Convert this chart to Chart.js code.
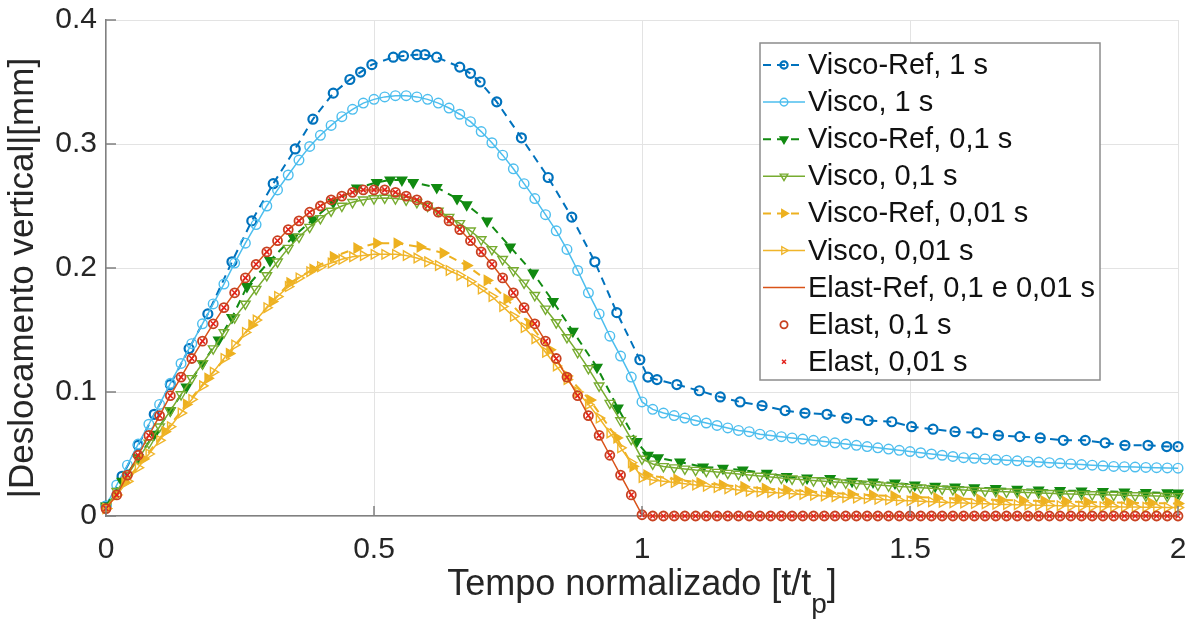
<!DOCTYPE html>
<html lang="pt">
<head>
<meta charset="UTF-8">
<title>Deslocamento vertical</title>
<script src="https://cdn.jsdelivr.net/npm/chart.js"></script>
<style>
  body { margin: 0; background: #fff; }
  #wrap { width: 1190px; height: 626px; }
</style>
</head>
<body>
<div id="wrap"><canvas id="chart" width="1190" height="626"></canvas></div>
<script>
// eixos
const xTicks = [0, 0.5, 1, 1.5, 2];
const xTickLabels = ['0', '0.5', '1', '1.5', '2'];
const yTicks = [0, 0.1, 0.2, 0.3, 0.4];
const yTickLabels = ['0', '0.1', '0.2', '0.3', '0.4'];

// tempo normalizado das curvas densas
const xDense = [0, 0.02, 0.04, 0.06, 0.08, 0.1, 0.12, 0.14, 0.16, 0.18,
  0.2, 0.22, 0.24, 0.26, 0.28, 0.3, 0.32, 0.34, 0.36, 0.38,
  0.4, 0.42, 0.44, 0.46, 0.48, 0.5, 0.52, 0.54, 0.56, 0.58,
  0.6, 0.62, 0.64, 0.66, 0.68, 0.7, 0.72, 0.74, 0.76, 0.78,
  0.8, 0.82, 0.84, 0.86, 0.88, 0.9, 0.92, 0.94, 0.96, 0.98,
  1, 1.02, 1.04, 1.06, 1.08, 1.1, 1.12, 1.14, 1.16, 1.18,
  1.2, 1.22, 1.24, 1.26, 1.28, 1.3, 1.32, 1.34, 1.36, 1.38,
  1.4, 1.42, 1.44, 1.46, 1.48, 1.5, 1.52, 1.54, 1.56, 1.58,
  1.6, 1.62, 1.64, 1.66, 1.68, 1.7, 1.72, 1.74, 1.76, 1.78,
  1.8, 1.82, 1.84, 1.86, 1.88, 1.9, 1.92, 1.94, 1.96, 1.98,
  2];

// Visco, 1 s
const visco1 = [0.008, 0.025, 0.041, 0.058, 0.074, 0.090, 0.107, 0.123, 0.139, 0.155,
  0.171, 0.187, 0.204, 0.220, 0.235, 0.250, 0.263, 0.275, 0.287, 0.298,
  0.307, 0.315, 0.322, 0.328, 0.333, 0.336, 0.338, 0.339, 0.339, 0.338,
  0.336, 0.333, 0.329, 0.324, 0.318, 0.310, 0.301, 0.291, 0.280, 0.268,
  0.256, 0.243, 0.230, 0.215, 0.198, 0.180, 0.163, 0.145, 0.129, 0.112,
  0.092, 0.086, 0.083, 0.081, 0.079, 0.077, 0.075, 0.073, 0.071, 0.069,
  0.068, 0.066, 0.065, 0.064, 0.063, 0.062, 0.061, 0.060, 0.059, 0.058,
  0.057, 0.056, 0.055, 0.054, 0.053, 0.052, 0.051, 0.050, 0.049, 0.048,
  0.0470, 0.0465, 0.0460, 0.0455, 0.0450, 0.0445, 0.0440, 0.0435, 0.0430, 0.0425,
  0.0420, 0.0415, 0.0410, 0.0405, 0.0400, 0.0398, 0.0395, 0.0392, 0.0390, 0.0388,
  0.0386];

// Visco, 0,1 s
const visco01 = [0.007, 0.020, 0.033, 0.046, 0.059, 0.072, 0.085, 0.098, 0.111, 0.123,
  0.135, 0.148, 0.160, 0.171, 0.183, 0.194, 0.205, 0.216, 0.225, 0.233,
  0.240, 0.246, 0.250, 0.253, 0.255, 0.256, 0.2565, 0.256, 0.255, 0.253,
  0.250, 0.246, 0.241, 0.236, 0.230, 0.223, 0.215, 0.207, 0.198, 0.188,
  0.178, 0.167, 0.156, 0.144, 0.132, 0.119, 0.105, 0.091, 0.077, 0.062,
  0.046, 0.042, 0.040, 0.039, 0.038, 0.037, 0.0362, 0.0354, 0.0346, 0.0338,
  0.0330, 0.0322, 0.0314, 0.0306, 0.0300, 0.0293, 0.0286, 0.0280, 0.0274, 0.0268,
  0.0262, 0.0256, 0.0250, 0.0244, 0.0238, 0.0233, 0.0228, 0.0223, 0.0218, 0.0214,
  0.0210, 0.0206, 0.0202, 0.0198, 0.0195, 0.0192, 0.0189, 0.0186, 0.0183, 0.0180,
  0.0177, 0.0175, 0.0173, 0.0171, 0.0169, 0.0167, 0.0165, 0.0163, 0.0161, 0.0159,
  0.0157];

// Visco, 0,01 s
const visco001 = [0.006, 0.017, 0.028, 0.039, 0.050, 0.061, 0.072, 0.083, 0.094, 0.105,
  0.116, 0.127, 0.138, 0.148, 0.158, 0.168, 0.177, 0.185, 0.192, 0.197,
  0.201, 0.204, 0.207, 0.209, 0.210, 0.211, 0.211, 0.211, 0.210, 0.208,
  0.205, 0.202, 0.198, 0.194, 0.189, 0.183, 0.177, 0.169, 0.161, 0.152,
  0.143, 0.132, 0.121, 0.110, 0.100, 0.090, 0.079, 0.067, 0.055, 0.043,
  0.031, 0.029, 0.028, 0.027, 0.026, 0.025, 0.024, 0.023, 0.022, 0.021,
  0.0200, 0.0195, 0.0190, 0.0185, 0.0180, 0.0174, 0.0168, 0.0162, 0.0156, 0.0150,
  0.0145, 0.0140, 0.0135, 0.0130, 0.0126, 0.0122, 0.0118, 0.0114, 0.0110, 0.0107,
  0.0104, 0.0101, 0.0098, 0.0095, 0.0093, 0.0091, 0.0089, 0.0087, 0.0085, 0.0083,
  0.0081, 0.0079, 0.0077, 0.0075, 0.0074, 0.0073, 0.0072, 0.0071, 0.0070, 0.0069,
  0.0068];

// Elast (ref, 0,1 s e 0,01 s coincidem)
const elast = [0.006, 0.017, 0.033, 0.049, 0.065, 0.081, 0.097, 0.112, 0.127, 0.141,
  0.155, 0.168, 0.180, 0.192, 0.203, 0.213, 0.222, 0.231, 0.238, 0.245,
  0.250, 0.255, 0.258, 0.261, 0.263, 0.263, 0.263, 0.261, 0.258, 0.255,
  0.250, 0.245, 0.238, 0.231, 0.222, 0.213, 0.203, 0.192, 0.180, 0.168,
  0.155, 0.141, 0.127, 0.112, 0.097, 0.081, 0.065, 0.049, 0.033, 0.017,
  0.001, 0, 0, 0, 0, 0, 0, 0, 0, 0,
  0, 0, 0, 0, 0, 0, 0, 0, 0, 0,
  0, 0, 0, 0, 0, 0, 0, 0, 0, 0,
  0, 0, 0, 0, 0, 0, 0, 0, 0, 0,
  0, 0, 0, 0, 0, 0, 0, 0, 0, 0,
  0];

// Visco-Ref, 1 s
const ref1X = [0, 0.03, 0.06, 0.09, 0.12, 0.155, 0.19, 0.235, 0.272, 0.312,
  0.353, 0.386, 0.424, 0.455, 0.475, 0.496, 0.536, 0.555, 0.58, 0.595,
  0.617, 0.66, 0.68, 0.698, 0.729, 0.775, 0.825, 0.869, 0.912, 0.953,
  0.996, 1.011, 1.028, 1.065, 1.107, 1.146, 1.183, 1.224, 1.267, 1.304,
  1.345, 1.382, 1.422, 1.466, 1.503, 1.543, 1.584, 1.625, 1.665, 1.705,
  1.743, 1.786, 1.827, 1.864, 1.901, 1.944, 1.979, 2];
const ref1 = [0.008, 0.032, 0.057, 0.082, 0.106, 0.135, 0.163, 0.205, 0.238, 0.268,
  0.296, 0.320, 0.341, 0.352, 0.358, 0.364, 0.370, 0.371, 0.372, 0.372,
  0.370, 0.362, 0.357, 0.350, 0.334, 0.305, 0.273, 0.241, 0.205, 0.164,
  0.126, 0.112, 0.110, 0.106, 0.101, 0.096, 0.092, 0.089, 0.085, 0.083,
  0.082, 0.079, 0.077, 0.076, 0.072, 0.070, 0.068, 0.067, 0.065, 0.064,
  0.063, 0.061, 0.061, 0.059, 0.057, 0.057, 0.056, 0.056];

// Visco-Ref, 0,1 s
const ref01X = [0, 0.03, 0.06, 0.09, 0.12, 0.15, 0.18, 0.21, 0.235, 0.263,
  0.306, 0.349, 0.386, 0.424, 0.468, 0.505, 0.53, 0.552, 0.573, 0.617,
  0.655, 0.673, 0.711, 0.754, 0.797, 0.834, 0.871, 0.916, 0.955, 0.99,
  1.011, 1.03, 1.071, 1.114, 1.151, 1.188, 1.233, 1.27, 1.308, 1.351,
  1.392, 1.431, 1.472, 1.509, 1.547, 1.584, 1.62, 1.66, 1.7, 1.74,
  1.78, 1.82, 1.86, 1.9, 1.94, 1.98, 2];
const ref01 = [0.008, 0.028, 0.047, 0.066, 0.085, 0.104, 0.123, 0.142, 0.160, 0.185,
  0.206, 0.225, 0.239, 0.253, 0.2645, 0.269, 0.271, 0.271, 0.269, 0.265,
  0.256, 0.251, 0.238, 0.217, 0.196, 0.173, 0.149, 0.120, 0.087, 0.060,
  0.049, 0.047, 0.0436, 0.0395, 0.0386, 0.0370, 0.0345, 0.0318, 0.0306, 0.0303,
  0.0280, 0.0275, 0.0266, 0.0250, 0.0240, 0.0234, 0.0228, 0.0222, 0.0216, 0.0210,
  0.0206, 0.0202, 0.0198, 0.0194, 0.0190, 0.0187, 0.0185];

// Visco-Ref, 0,01 s
const ref001X = [0, 0.035, 0.07, 0.11, 0.15, 0.19, 0.23, 0.272, 0.31, 0.343,
  0.386, 0.424, 0.468, 0.505, 0.543, 0.586, 0.629, 0.673, 0.711, 0.748,
  0.79, 0.828, 0.86, 0.903, 0.953, 0.983, 1.009, 1.065, 1.108, 1.15,
  1.19, 1.23, 1.27, 1.31, 1.35, 1.39, 1.43, 1.47, 1.51, 1.55,
  1.59, 1.63, 1.67, 1.71, 1.75, 1.79, 1.83, 1.87, 1.91, 1.95,
  2];
const ref001 = [0.006, 0.027, 0.046, 0.068, 0.090, 0.111, 0.131, 0.154, 0.173, 0.188,
  0.199, 0.209, 0.216, 0.220, 0.220, 0.217, 0.212, 0.202, 0.190, 0.175,
  0.155, 0.134, 0.113, 0.0935, 0.063, 0.040, 0.033, 0.0295, 0.0268, 0.0250,
  0.0235, 0.0222, 0.0210, 0.0198, 0.0187, 0.0177, 0.0168, 0.0160, 0.0153, 0.0146,
  0.0140, 0.0134, 0.0129, 0.0124, 0.0120, 0.0116, 0.0113, 0.0110, 0.0107, 0.0104,
  0.0101];

function pts(xs, ys) {
  return xs.map((x, i) => ({ x: x, y: ys[i] }));
}

const FONT = '"Liberation Sans", Arial, sans-serif';
const NONE = 'rgba(0,0,0,0)';

const datasets = [
  { label: 'Visco-Ref, 1 s', data: pts(ref1X, ref1), borderColor: '#0072BD', borderWidth: 2, borderDash: [8, 6],
    pointStyle: 'circle', pointRadius: 4.5, pointBorderWidth: 2.2, pointBorderColor: '#0072BD', pointBackgroundColor: NONE },
  { label: 'Visco, 1 s', data: pts(xDense, visco1), borderColor: '#4DBEEE', borderWidth: 1.5,
    pointStyle: 'circle', pointRadius: 4.8, pointBorderWidth: 1.4, pointBorderColor: '#4DBEEE', pointBackgroundColor: NONE },
  { label: 'Visco-Ref, 0,1 s', data: pts(ref01X, ref01), borderColor: '#118A11', borderWidth: 2, borderDash: [8, 6],
    pointStyle: 'triangle', pointRotation: 180, pointRadius: 5.5, pointBorderWidth: 1.5, pointBorderColor: '#118A11', pointBackgroundColor: '#118A11' },
  { label: 'Visco, 0,1 s', data: pts(xDense, visco01), borderColor: '#77AC30', borderWidth: 1.5,
    pointStyle: 'triangle', pointRotation: 180, pointRadius: 5.5, pointBorderWidth: 1.4, pointBorderColor: '#77AC30', pointBackgroundColor: NONE },
  { label: 'Visco-Ref, 0,01 s', data: pts(ref001X, ref001), borderColor: '#EDB120', borderWidth: 2, borderDash: [8, 6],
    pointStyle: 'triangle', pointRotation: 90, pointRadius: 5.5, pointBorderWidth: 1.5, pointBorderColor: '#EDB120', pointBackgroundColor: '#EDB120' },
  { label: 'Visco, 0,01 s', data: pts(xDense, visco001), borderColor: '#F0B52A', borderWidth: 1.5,
    pointStyle: 'triangle', pointRotation: 90, pointRadius: 5.5, pointBorderWidth: 1.4, pointBorderColor: '#F0B52A', pointBackgroundColor: NONE },
  { label: 'Elast-Ref, 0,1 e 0,01 s', data: pts(xDense, elast), borderColor: '#D95319', borderWidth: 1.5,
    pointRadius: 0 },
  { label: 'Elast, 0,1 s', data: pts(xDense, elast), showLine: false, borderColor: '#B5602A',
    pointStyle: 'circle', pointRadius: 4.5, pointBorderWidth: 1.8, pointBorderColor: '#C8401F', pointBackgroundColor: NONE },
  { label: 'Elast, 0,01 s', data: pts(xDense, elast), showLine: false, borderColor: '#E3201B',
    pointStyle: 'crossRot', pointRadius: 3.5, pointBorderWidth: 1.5, pointBorderColor: '#E3201B', pointBackgroundColor: NONE }
];
datasets.forEach((d, i) => {
  d.order = datasets.length - i; // ultima curva por cima
  d.clip = 8;
  if (d.showLine === undefined) d.showLine = true;
});

// marcas de escala para dentro (estilo MATLAB)
const innerTicks = {
  id: 'innerTicks',
  afterDatasetsDraw(c) {
    const { ctx, chartArea: a, scales } = c;
    ctx.save();
    ctx.strokeStyle = '#808080';
    ctx.lineWidth = 1.5;
    ctx.beginPath();
    xTicks.forEach(v => {
      const px = scales.x.getPixelForValue(v);
      ctx.moveTo(px, a.bottom); ctx.lineTo(px, a.bottom - 10);
    });
    yTicks.forEach(v => {
      const py = scales.y.getPixelForValue(v);
      ctx.moveTo(a.left, py); ctx.lineTo(a.left + 10, py);
    });
    ctx.stroke();
    ctx.restore();
  }
};

const axisTitles = {
  id: 'axisTitles',
  afterDraw(c) {
    const ctx = c.ctx;
    ctx.save();
    ctx.fillStyle = '#262626';
    // eixo x, com subscrito
    const main = 'Tempo normalizado [t/t', sub = 'p', end = ']';
    ctx.font = '36px ' + FONT;
    const w1 = ctx.measureText(main).width, w3 = ctx.measureText(end).width;
    ctx.font = '28px ' + FONT;
    const w2 = ctx.measureText(sub).width;
    let x0 = (c.chartArea.left + c.chartArea.right) / 2 - (w1 + w2 + w3) / 2;
    ctx.textBaseline = 'alphabetic';
    ctx.textAlign = 'left';
    ctx.font = '36px ' + FONT;
    ctx.fillText(main, x0, 595);
    ctx.font = '28px ' + FONT;
    ctx.fillText(sub, x0 + w1, 613);
    ctx.font = '36px ' + FONT;
    ctx.fillText(end, x0 + w1 + w2, 595);
    // eixo y
    ctx.translate(33, 278);
    ctx.rotate(-Math.PI / 2);
    ctx.textAlign = 'center';
    ctx.font = '35px ' + FONT;
    ctx.fillText('|Deslocamento vertical|[mm]', 0, 0);
    ctx.restore();
  }
};

const legendBox = {
  id: 'legendBox',
  afterDraw(c) {
    const ctx = c.ctx;
    const bx = 760, by = 43, bw = 340, bh = 337;
    ctx.save();
    ctx.fillStyle = '#fff';
    ctx.fillRect(bx, by, bw, bh);
    ctx.strokeStyle = '#8c8c8c';
    ctx.lineWidth = 1.5;
    ctx.strokeRect(bx, by, bw, bh);
    c.data.datasets.forEach((ds, i) => {
      const yy = 65 + i * 37.1;
      if (ds.showLine) {
        ctx.strokeStyle = ds.borderColor;
        ctx.lineWidth = ds.borderWidth;
        ctx.setLineDash(ds.borderDash || []);
        ctx.beginPath();
        ctx.moveTo(763, yy);
        ctx.lineTo(805, yy);
        ctx.stroke();
        ctx.setLineDash([]);
      }
      if (ds.pointRadius > 0) {
        ctx.strokeStyle = ds.pointBorderColor;
        ctx.fillStyle = ds.pointBackgroundColor;
        ctx.lineWidth = ds.pointBorderWidth;
        Chart.helpers.drawPoint(ctx, {
          pointStyle: ds.pointStyle, rotation: ds.pointRotation || 0,
          radius: ds.pointRadius * 0.8, borderWidth: ds.pointBorderWidth
        }, 784, yy);
      }
      ctx.fillStyle = '#111';
      ctx.font = '29px ' + FONT;
      ctx.textAlign = 'left';
      ctx.textBaseline = 'middle';
      ctx.fillText(ds.label, 808, yy + 1);
    });
    ctx.restore();
  }
};

const tickFont = { family: FONT, size: 30 };

new Chart(document.getElementById('chart'), {
  type: 'scatter',
  data: { datasets: datasets },
  options: {
    responsive: false,
    animation: false,
    devicePixelRatio: 1,
    layout: { padding: { top: 20, right: 12, left: 0, bottom: 0 } },
    plugins: { legend: { display: false }, tooltip: { enabled: false } },
    scales: {
      x: {
        type: 'linear', min: 0, max: 2,
        afterBuildTicks: s => { s.ticks = xTicks.map(v => ({ value: v })); },
        afterFit: s => { s.height = 110; s.paddingLeft = 0; s.paddingRight = 0; },
        grid: { color: '#e3e3e3', lineWidth: 1, drawTicks: false },
        border: { color: '#808080', width: 1.5 },
        ticks: { padding: 16, color: '#262626', font: tickFont, maxRotation: 0,
          callback: (v, i) => xTickLabels[i] }
      },
      y: {
        type: 'linear', min: 0, max: 0.4,
        afterBuildTicks: s => { s.ticks = yTicks.map(v => ({ value: v })); },
        afterFit: s => { s.width = 106; s.paddingTop = 0; s.paddingBottom = 0; },
        grid: { color: '#e3e3e3', lineWidth: 1, drawTicks: false },
        border: { color: '#808080', width: 1.5 },
        ticks: { padding: 9, color: '#262626', font: tickFont,
          callback: (v, i) => yTickLabels[i] }
      }
    }
  },
  plugins: [innerTicks, axisTitles, legendBox]
});
</script>
</body>
</html>
